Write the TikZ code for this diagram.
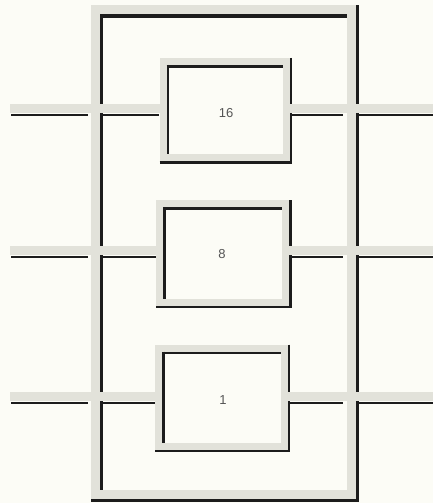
\documentclass[tikz,border=0pt]{standalone}
\usepackage{fontspec}
\setmainfont{Liberation Sans}
\definecolor{bgcol}{HTML}{FCFCF6}
\definecolor{bandcol}{HTML}{E2E2DA}
\definecolor{inkcol}{HTML}{1C1C1C}
\definecolor{textcol}{HTML}{555555}
\newcommand\drawframe[6]{%
  \pgfmathsetmacro\hw{#5/2}%
  \pgfmathsetmacro\off{#5/2+#6/2}%
  \draw[band, line width=#5pt] (#1,#2) rectangle (#3,#4);
  \draw[ink, line width=#6pt] (#1+\off,#2+\hw) -- (#1+\off,#4-\hw);
  \draw[ink, line width=#6pt] (#1+\hw,#2+\off) -- (#3-\hw,#2+\off);
  \draw[ink, line width=#6pt] (#3+\off,#2-\hw) -- (#3+\off,#4+\hw+#6);
  \draw[ink, line width=#6pt] (#1-\hw,#4+\off) -- (#3+\hw+#6,#4+\off);
}
\begin{document}
\begin{tikzpicture}[x=1pt,y=-1pt,
  band/.style={draw=bandcol},
  ink/.style={draw=inkcol},
  wireband/.style={draw=bandcol, line width=9pt},
  wire/.style={draw=inkcol, line width=2.2pt},
  numlabel/.style={text=textcol, font=\fontsize{13}{15}\selectfont, inner sep=0pt}]
\fill[bgcol] (0,0) rectangle (433,503);
\useasboundingbox (0,0) rectangle (433,503);
% outer frame and the three boxes
\drawframe{95.5}{10}{351}{494}{9}{3.4}
\drawframe{163}{61.5}{286}{157.5}{7}{2.6}
\drawframe{159.5}{203.5}{285.5}{302}{7}{2.6}
\drawframe{158.5}{348}{284}{446}{7}{2.6}
% labels
\node[numlabel] (b16) at (226,113) {16};
\node[numlabel] (b8) at (222,254) {8};
\node[numlabel] (b1) at (223,400) {1};
% wires
\foreach \i/\yw/\L/\R in {a/115/163/286, b/257/159.5/285.5, c/403/158.5/284} {
  \coordinate (\i0) at (10,\yw-6.5);
  \coordinate (\i1) at (\L,\yw-6.5);
  \coordinate (\i2) at (\R,\yw-6.5);
  \coordinate (\i3) at (433,\yw-6.5);
  \draw[wireband] (\i0) -- (\i1);
  \draw[wireband] (\i2) -- (\i3);
  \coordinate (\i4) at (11,\yw);
  \coordinate (\i5) at (88,\yw);
  \coordinate (\i6) at (101,\yw);
  \coordinate (\i7) at (\L-4,\yw);
  \coordinate (\i8) at (\R+4.5,\yw);
  \coordinate (\i9) at (343,\yw);
  \coordinate (\i10) at (357,\yw);
  \coordinate (\i11) at (433,\yw);
  \draw[wire] (\i4) -- (\i5);
  \draw[wire] (\i6) -- (\i7);
  \draw[wire] (\i8) -- (\i9);
  \draw[wire] (\i10) -- (\i11);
}
\end{tikzpicture}
\end{document}
